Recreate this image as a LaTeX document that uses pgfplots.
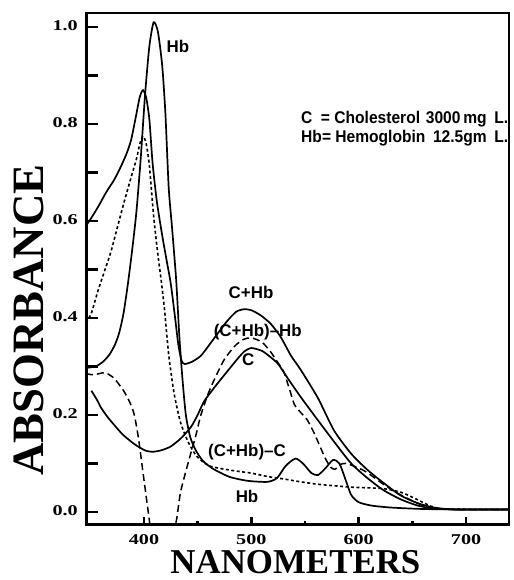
\documentclass[border=0pt]{standalone}
\usepackage{pgfplots}
\pgfplotsset{compat=1.18}
\usepackage{fontspec}
\setmainfont{Liberation Serif}
\newfontfamily\tickfont[FakeStretch=1.35]{Liberation Serif}
\newfontfamily\labfont{Liberation Sans}
\newfontfamily\annfont[FakeStretch=0.92]{Liberation Sans}
\begin{document}
\begin{tikzpicture}
\path[use as bounding box] (0,0) rectangle (514bp,580bp);
\begin{axis}[
  at={(86bp,55bp)}, anchor=south west,
  width=423bp, height=512bp, scale only axis,
  xmin=346, xmax=740, ymin=-0.027, ymax=1.029,
  axis line style={line width=2bp, black},
  xtick=\empty,
  ytick={0,0.2,0.4,0.6,0.8,1.0},
  yticklabels={0.0,0.2,0.4,0.6,0.8,1.0},
  minor ytick={0.1,0.3,0.5,0.7,0.9},
  ytick pos=left, tick align=inside,
  major tick length=12bp, minor tick length=12bp,
  tick style={line width=2.6bp, black},
  yticklabel style={font=\tickfont\bfseries\fontsize{15}{15}\selectfont, anchor=east, inner sep=0pt, xshift=-8bp, yshift=1bp},
  xlabel={NANOMETERS},
  xlabel style={font=\bfseries\fontsize{35}{35}\selectfont, at={(axis description cs:0.495,-0.095)}, anchor=base, inner sep=0pt},
  ylabel={ABSORBANCE},
  ylabel style={font=\bfseries\fontsize{45}{45}\selectfont, at={(axis description cs:-0.135,0.40)}, anchor=center},
  clip=true,
]
% Hb
\addplot[black, line width=1.7bp, smooth, tension=0.4] coordinates {
(346,0.297)(355,0.3)(362,0.31)(368,0.325)(373,0.345)(377,0.37)(381,0.41)(385,0.47)(389,0.54)(393,0.62)(397,0.73)(401,0.86)(405,0.96)(409,1.01)(413,0.99)(417,0.92)(420,0.82)(423,0.67)(426,0.59)(430,0.478)(433,0.36)(436,0.27)(439,0.2)(443,0.155)(448,0.128)(455,0.105)(465,0.088)(480,0.072)(497,0.064)(515,0.062)(524,0.07)(532,0.095)(541,0.11)(548,0.1)(556,0.08)(562,0.076)(569,0.09)(576,0.107)(582,0.1)(588,0.065)(593,0.035)(600,0.02)(612,0.013)(630,0.009)(660,0.006)(700,0.005)(740,0.005)
};
% C+Hb
\addplot[black, line width=1.7bp, smooth, tension=0.4] coordinates {
(346,0.59)(352,0.61)(358,0.632)(365,0.66)(372,0.684)(378,0.71)(384,0.74)(388,0.767)(392,0.81)(396,0.855)(399,0.87)(402,0.855)(405,0.81)(408,0.72)(412,0.64)(417,0.57)(421,0.52)(425,0.47)(429,0.4)(432,0.345)(435,0.312)(438,0.305)(445,0.31)(453,0.322)(461,0.345)(469,0.369)(478,0.395)(486,0.413)(493,0.418)(500,0.416)(509,0.405)(518,0.388)(527,0.362)(537,0.322)(546,0.293)(562,0.235)(577,0.168)(593,0.12)(608,0.087)(623,0.06)(639,0.034)(655,0.018)(670,0.009)(690,0.005)(740,0.005)
};
% C
\addplot[black, line width=1.7bp, smooth, tension=0.4] coordinates {
(351,0.25)(356,0.232)(360,0.215)(366,0.196)(372,0.18)(380,0.16)(388,0.145)(395,0.134)(402,0.126)(408,0.124)(416,0.127)(425,0.135)(435,0.153)(444,0.176)(450,0.2)(456,0.228)(465,0.255)(474,0.28)(485,0.31)(493,0.33)(500,0.338)(510,0.332)(518,0.319)(525,0.305)(535,0.272)(546,0.237)(560,0.195)(577,0.145)(593,0.1)(608,0.07)(623,0.045)(639,0.026)(655,0.013)(670,0.007)(690,0.005)(740,0.005)
};
% (C+Hb)-Hb
\addplot[black, line width=1.5bp, dash pattern=on 7bp off 4bp, smooth, tension=0.4] coordinates {
(346,0.285)(352,0.283)(358,0.285)(364,0.287)(372,0.276)(381,0.25)(387,0.225)(391,0.2)(395,0.15)(400,0.066)(404,0.0)(408,-0.06)(416,-0.09)(424,-0.06)(430,-0.02)(434,0.04)(441,0.1)(448,0.155)(453,0.2)(460,0.245)(467,0.28)(475,0.315)(485,0.343)(493,0.356)(500,0.359)(510,0.35)(518,0.33)(525,0.307)(530,0.29)(536,0.25)(540,0.222)(546,0.205)(552,0.19)(558,0.165)(563,0.14)(569,0.11)(574,0.092)(578,0.088)(583,0.098)(588,0.1)(595,0.095)(605,0.085)(615,0.07)(623,0.057)(635,0.04)(648,0.025)(660,0.013)(672,0.007)(690,0.005)(740,0.005)
};
% (C+Hb)-C
\addplot[black, line width=1.6bp, dash pattern=on 3bp off 2.5bp, smooth, tension=0.4] coordinates {
(346,0.39)(351,0.41)(357,0.455)(363,0.495)(369,0.535)(375,0.585)(381,0.635)(388,0.69)(393,0.728)(396,0.758)(399,0.775)(402,0.76)(405,0.715)(409,0.61)(413,0.53)(416,0.478)(419,0.42)(423,0.325)(428,0.245)(434,0.185)(441,0.145)(448,0.118)(455,0.103)(462,0.094)(475,0.088)(490,0.083)(500,0.08)(515,0.073)(530,0.068)(546,0.062)(562,0.057)(577,0.054)(593,0.051)(623,0.048)(640,0.04)(655,0.025)(667,0.012)(680,0.006)(740,0.005)
};
\draw[line width=3.5bp, line cap=rect] (rel axis cs:0,1) -- (rel axis cs:0,0) -- (rel axis cs:1,0);
\begin{scope}[font=\labfont\bfseries\fontsize{17}{17}\selectfont]
\node at (axis cs:431.7,0.959) {Hb};
\node at (axis cs:499.7,0.452) {C+Hb};
\node at (axis cs:506,0.371) {(C+Hb)–Hb};
\node at (axis cs:497,0.313) {C};
\node at (axis cs:496,0.124) {(C+Hb)–C};
\node at (axis cs:496,0.031) {Hb};
\node[anchor=west, inner sep=0pt] at (axis cs:546.3,0.81) {\annfont\makebox[207bp][l]{C\hspace{0.5em}= Cholesterol\hfill 3000\,mg\hspace{0.45em}L.}};
\node[anchor=west, inner sep=0pt] at (axis cs:546.3,0.771) {\annfont\makebox[207bp][l]{Hb= Hemoglobin\hfill 12.5gm\hspace{0.45em}L.}};
\end{scope}
\end{axis}
\begin{axis}[
  at={(86bp,55bp)}, anchor=south west,
  width=423bp, height=512bp, scale only axis,
  xmin=346, xmax=740, ymin=-0.027, ymax=1.029,
  axis x line*=bottom, axis y line=none,
  axis line style={draw=none},
  xtick={400,500,600,700},
  xticklabels={400,500,600,700},
  minor xtick={450,550,650},
  ytick=\empty,
  tick align=inside,
  major tick length=8bp, minor tick length=4bp,
  tick style={line width=2.6bp, black},
  xticklabel style={font=\tickfont\bfseries\fontsize{15}{15}\selectfont, anchor=north, inner sep=0pt, yshift=-9bp},
]
\addplot[draw=none] coordinates {(400,0)};
\end{axis}
\end{tikzpicture}
\end{document}
